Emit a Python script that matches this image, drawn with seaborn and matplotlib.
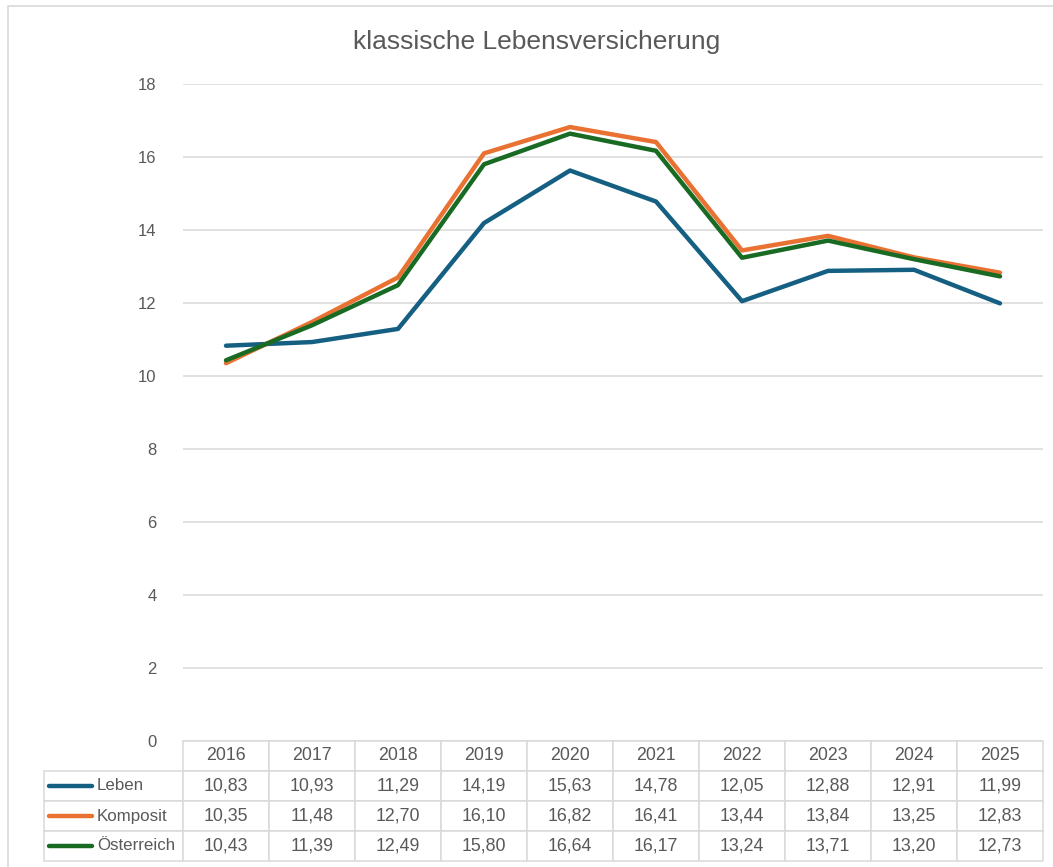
import matplotlib
matplotlib.use("Agg")
import matplotlib.pyplot as plt
import seaborn as sns
import pandas as pd
from matplotlib.table import Table
from matplotlib.lines import Line2D
from matplotlib.patches import Rectangle

years = [2016, 2017, 2018, 2019, 2020, 2021, 2022, 2023, 2024, 2025]
leben = [10.83, 10.93, 11.29, 14.19, 15.63, 14.78, 12.05, 12.88, 12.91, 11.99]
komposit = [10.35, 11.48, 12.70, 16.10, 16.82, 16.41, 13.44, 13.84, 13.25, 12.83]
oesterreich = [10.43, 11.39, 12.49, 15.80, 16.64, 16.17, 13.24, 13.71, 13.20, 12.73]
series_names = ["Leben", "Komposit", "Österreich"]
series_values = [leben, komposit, oesterreich]
colors = ["#156082", "#E97132", "#196B24"]
title = "klassische Lebensversicherung"

df = pd.DataFrame({
    "Jahr": years * len(series_names),
    "Wert": leben + komposit + oesterreich,
    "Reihe": [n for n in series_names for _ in years],
})

sns.set_style("white")
plt.rcParams["font.family"] = ["Liberation Sans", "DejaVu Sans"]
grey_text = "#595959"
grey_line = "#d9d9d9"

W, H = 1053, 867
fig = plt.figure(figsize=(W / 100, H / 100), dpi=100)
ax = fig.add_axes([183 / W, 1 - 741 / H, 860 / W, 657 / H])

sns.lineplot(data=df, x="Jahr", y="Wert", hue="Reihe", hue_order=series_names,
             palette=colors, linewidth=3.2, legend=False, ax=ax,
             solid_capstyle="round", solid_joinstyle="round")

ax.set_xlim(years[0] - 0.5, years[-1] + 0.5)
ax.set_ylim(0, 18)
ax.set_yticks(range(0, 19, 2))
ax.set_xticks([])
ax.set_xlabel("")
ax.set_ylabel("")
ax.yaxis.grid(True, color=grey_line, linewidth=1.1)
ax.set_axisbelow(True)
for s in ax.spines.values():
    s.set_visible(False)
ax.tick_params(axis="y", length=0, pad=19, labelsize=12, labelcolor=grey_text)

# data table under the plot
ax_h_px = 657
row_h = 30 / ax_h_px
col_w = 1 / len(years)
label_w = 139 / 860
tbl = Table(ax, bbox=[0, -row_h * (len(series_names) + 1), 1, row_h * (len(series_names) + 1)])
for c, yr in enumerate(years):
    tbl.add_cell(0, c, col_w, row_h, text=str(yr), loc="center")
for r, (name, vals) in enumerate(zip(series_names, series_values), start=1):
    cell = tbl.add_cell(r, -1, label_w, row_h, text=name, loc="left")
    cell.PAD = (97 - 44) / 139
    for c, v in enumerate(vals):
        tbl.add_cell(r, c, col_w, row_h, text=f"{v:.2f}".replace(".", ","), loc="center")
tbl.auto_set_font_size(False)
tbl.set_fontsize(12.8)
for (r, c), cell in tbl.get_celld().items():
    cell.set_edgecolor(grey_line)
    cell.set_linewidth(1.1)
    cell.get_text().set_color(grey_text)
    if c == -1:
        cell.get_text().set_fontsize(12.2)
ax.add_table(tbl)

# legend keys inside the row label cells
for i, col in enumerate(colors):
    yc = -row_h - row_h * (i + 0.5)
    fig.add_artist(Line2D([(49 - 183) / 860, (92 - 183) / 860], [yc, yc],
                          transform=ax.transAxes, color=col, linewidth=3.2,
                          solid_capstyle="round"))

fig.text(537 / W, 1 - 42 / H, title, ha="center", va="center", fontsize=19,
         color=grey_text, family=["Liberation Sans Narrow", "Liberation Sans", "DejaVu Sans"])

# chart area border
fig.add_artist(Rectangle((8 / W, -0.5), 2, 0.5 + 1 - 6 / H, transform=fig.transFigure,
                         fill=False, edgecolor=grey_line, linewidth=1.2))

fig.savefig("out.png", dpi=100)
